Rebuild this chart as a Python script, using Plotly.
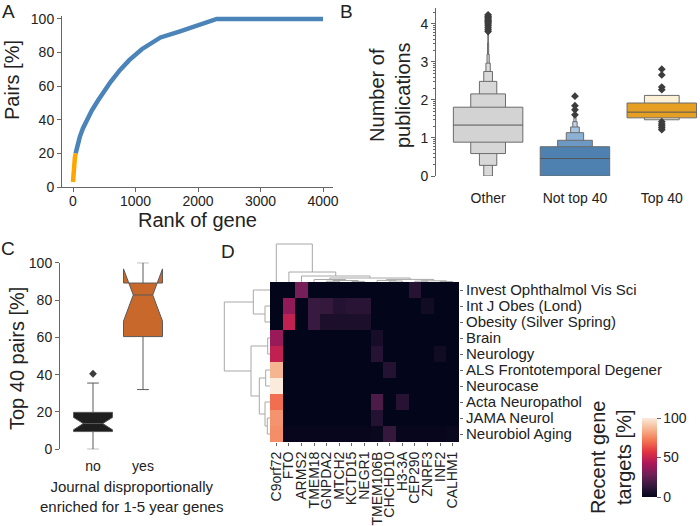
import math
import plotly.graph_objects as go

W, H = 700, 526
def px(x): return x / W
def py(y): return 1 - y / H

FONT = "Liberation Sans, Arial, sans-serif"
TXT = "#222222"
AX = "#666666"

# ---------------- Panel A data ----------------
rank_top40 = [0, 3, 10, 20, 30, 42]
pairs_top40 = [3, 6, 10.5, 14.5, 17.5, 20]
rank_rest = [42, 70, 110, 160, 220, 300, 400, 500, 600, 750, 900, 1100, 1400, 1700, 2000, 2300, 4000]
pairs_rest = [20, 25, 30, 35, 40, 45.5, 51.5, 57, 62.5, 69.5, 75.5, 82, 89, 92.5, 96.3, 100, 100]
a_xticks = [0, 1000, 2000, 3000, 4000]
a_yticks = [0, 20, 40, 60, 80, 100]

# ---------------- Panel B data (letter-value levels) ----------------
b_categories = ["Other", "Not top 40", "Top 40"]
other_lo = [0.89, 0.59, 0.28, 0.0, 0.0, 0.0, 0.0, 0.0]
other_hi = [1.81, 2.16, 2.49, 2.75, 2.97, 3.2, 3.5, 3.75]
other_med = 1.34
other_out = [3.8, 3.85, 3.9, 3.95, 4.0, 4.03, 4.07, 4.1, 4.13, 4.17, 4.2, 4.24]
other_colors = ["#d3d3d3", "#d6d6d6", "#d8d8d8", "#dadada", "#dcdcdc", "#dedede", "#e0e0e0", "#e2e2e2"]

nottop_lo = [0.0, 0.0, 0.0, 0.0, 0.0, 0.0]
nottop_hi = [0.77, 0.94, 1.14, 1.29, 1.43, 1.55]
nottop_med = 0.46
nottop_out = [1.61, 1.74, 1.85, 2.1]
nottop_colors = ["#4f81b0", "#6d98c4", "#8db1d5", "#a8c5e1", "#bfd4ea", "#d4e2f0"]

top_lo = [1.53, 1.48]
top_hi = [1.92, 2.12]
top_med = 1.68
top_out = [2.81, 2.66, 2.34, 2.27, 1.43, 1.37, 1.32, 1.27, 1.22]
top_colors = ["#e5a023", "#fcf0d6"]
b_yticks = [0, 1, 2, 3, 4]

# ---------------- Panel C data ----------------
c_categories = ["no", "yes"]
c_q1 = [9.5, 60.4]
c_median = [13.8, 82.7]
c_q3 = [19.8, 89.1]
c_lowerfence = [0, 32.0]
c_upperfence = [35.5, 100]
c_notchspan = [3.3, 14.0]
c_outliers_no = [40.5]
c_colors = ["#1e1e1e", "#c8692b"]
c_yticks = [0, 20, 40, 60, 80, 100]

# ---------------- Panel D data ----------------
genes = ["C9orf72", "FTO", "ARMS2", "TMEM18", "GNPDA2", "MTCH2", "KCTD15", "NEGR1",
         "TMEM106B", "CHCHD10", "H3-3A", "CEP290", "ZNRF3", "INF2", "CALHM1"]
journals = ["Invest Ophthalmol Vis Sci", "Int J Obes (Lond)", "Obesity (Silver Spring)", "Brain",
            "Neurology", "ALS Frontotemporal Degener", "Neurocase", "Acta Neuropathol",
            "JAMA Neurol", "Neurobiol Aging"]
targets_pct = [
    [0, 0, 30, 0, 0, 0, 0, 0, 0, 0, 0, 10, 0, 0, 0],
    [0, 36, 0, 15, 14, 9, 11, 11, 0, 0, 0, 0, 4, 0, 0],
    [0, 48, 0, 15, 7, 7, 7, 7, 0, 0, 0, 0, 0, 0, 0],
    [38, 0, 0, 0, 0, 0, 0, 0, 6, 0, 0, 0, 0, 0, 0],
    [48, 0, 0, 0, 0, 0, 0, 0, 10, 0, 0, 0, 0, 4, 0],
    [86, 0, 0, 0, 0, 0, 0, 0, 0, 9, 0, 0, 0, 0, 0],
    [100, 0, 0, 0, 0, 0, 0, 0, 0, 0, 0, 0, 0, 0, 0],
    [70, 0, 0, 0, 0, 0, 0, 0, 20, 0, 10, 0, 0, 0, 0],
    [78, 0, 0, 0, 0, 0, 0, 0, 9, 0, 0, 0, 0, 0, 0],
    [77, 1, 1, 1, 1, 1, 1, 1, 2, 14, 1, 1, 1, 1, 2],
]
cbar_ticks = [0, 50, 100]
# linkage: (child_a, child_b, height)  leaves are display-order indices
col_links = [(4, 5, 0.8), (6, 7, 0.6), (15, 16, 1.5), (3, 17, 2.5), (9, 10, 1.0),
             (8, 19, 1.6), (11, 12, 0.8), (13, 14, 0.5), (21, 22, 1.2), (20, 23, 2.6),
             (18, 24, 4.0), (2, 25, 6.0), (1, 26, 10.0), (0, 27, 38.0)]
row_links = [(1, 2, 5.0), (0, 10, 16.7), (3, 4, 2.3), (5, 6, 4.3), (8, 9, 2.7),
             (7, 14, 5.0), (13, 15, 10.7), (12, 16, 19.0), (11, 17, 45.7)]

rocket = [[0, "#03051A"], [1/7, "#35193E"], [2/7, "#701F57"], [3/7, "#AD1759"],
          [4/7, "#E13342"], [5/7, "#F37651"], [6/7, "#F6B48F"], [1, "#FAEBDD"]]

fig = go.Figure()

# ---- A ----
fig.add_trace(go.Scatter(x=rank_rest, y=pairs_rest, mode="lines",
                         line=dict(color="#4a84b8", width=4.5), xaxis="x", yaxis="y"))
fig.add_trace(go.Scatter(x=rank_top40, y=pairs_top40, mode="lines",
                         line=dict(color="#ffa500", width=4.5), xaxis="x", yaxis="y"))

# ---- B ----
b_groups = [(other_lo, other_hi, other_med, other_out, other_colors),
            (nottop_lo, nottop_hi, nottop_med, nottop_out, nottop_colors),
            (top_lo, top_hi, top_med, top_out, top_colors)]
for i, (lo, hi, med, out, cols) in enumerate(b_groups):
    n = len(lo)
    order = list(range(n))[::-1]  # outer (narrow) first, inner (wide) on top
    fig.add_trace(go.Bar(
        x=[i] * n,
        y=[hi[k] - lo[k] for k in order],
        base=[lo[k] for k in order],
        width=[0.8 * 0.5 ** k for k in order],
        marker=dict(color=[cols[k] for k in order], line=dict(color="#6b6b6b", width=1)),
        xaxis="x2", yaxis="y2"))
    fig.add_trace(go.Scatter(x=[i - 0.4, i + 0.4], y=[med, med], mode="lines",
                             line=dict(color="#555555", width=1), xaxis="x2", yaxis="y2"))
    fig.add_trace(go.Scatter(x=[i] * len(out), y=out, mode="markers",
                             marker=dict(symbol="diamond", size=6, color="#3d3d3d"),
                             xaxis="x2", yaxis="y2"))

# ---- C ----
for i in range(2):
    fig.add_trace(go.Box(x=[i], q1=[c_q1[i]], median=[c_median[i]], q3=[c_q3[i]],
                         lowerfence=[c_lowerfence[i]], upperfence=[c_upperfence[i]],
                         notchspan=[c_notchspan[i]], notched=True, notchwidth=0.25,
                         orientation="v", width=0.78, whiskerwidth=0.3, boxpoints=False,
                         fillcolor=c_colors[i], line=dict(color="#5a5a5a", width=1),
                         xaxis="x3", yaxis="y3"))
fig.add_trace(go.Scatter(x=[0] * len(c_outliers_no), y=c_outliers_no, mode="markers",
                         marker=dict(symbol="diamond", size=6, color="#3d3d3d"),
                         xaxis="x3", yaxis="y3"))

# ---- D heatmap ----
fig.add_trace(go.Heatmap(z=targets_pct, x=list(range(len(genes))), y=list(range(len(journals))),
                         colorscale=rocket, zmin=0, zmax=100, xaxis="x4", yaxis="y4",
                         colorbar=dict(x=px(642), xanchor="left", xpad=0, ypad=0,
                                       y=py(457.5), yanchor="middle", len=79, lenmode="pixels",
                                       thickness=15, outlinewidth=0, tickvals=cbar_ticks,
                                       ticks="outside", ticklen=4, tickcolor=AX,
                                       tickfont=dict(size=14, color=TXT, family=FONT))))

def dendro(links, n):
    pos = {i: float(i) for i in range(n)}
    hgt = {i: 0.0 for i in range(n)}
    P, Hh = [], []
    for k, (a, b, h) in enumerate(links):
        P += [pos[a], pos[a], pos[b], pos[b], None]
        Hh += [hgt[a], h, h, hgt[b], None]
        pos[n + k] = (pos[a] + pos[b]) / 2
        hgt[n + k] = h
    return P, Hh

cp, ch = dendro(col_links, len(genes))
fig.add_trace(go.Scatter(x=cp, y=ch, mode="lines", line=dict(color="#a8a8a8", width=1),
                         xaxis="x5", yaxis="y5"))
rp, rh = dendro(row_links, len(journals))
fig.add_trace(go.Scatter(x=rh, y=rp, mode="lines", line=dict(color="#a8a8a8", width=1),
                         xaxis="x6", yaxis="y6"))

tf = dict(size=14, color=TXT, family=FONT)
hf = dict(size=15, color=TXT, family=FONT)
base_ax = dict(showgrid=False, zeroline=False, tickfont=tf, tickcolor=AX, linecolor=AX,
               linewidth=1, automargin=False)
minor_b = [d + math.log10(k) for d in range(5) for k in range(2, 10) if d + math.log10(k) < 4.42]

fig.update_layout(
    width=W, height=H, margin=dict(l=0, r=0, t=0, b=0, autoexpand=False),
    paper_bgcolor="white", plot_bgcolor="white", showlegend=False,
    barmode="overlay", boxmode="overlay", hovermode=False,
    font=dict(family=FONT, color=TXT),
    xaxis=dict(base_ax, domain=[px(62), px(333)], range=[-176, 4160], tickvals=a_xticks,
               showline=True, ticks="outside", ticklen=4, anchor="y", ticklabelstandoff=-3),
    yaxis=dict(base_ax, domain=[py(187), py(15.6)], range=[0, 102], tickvals=a_yticks,
               showline=True, ticks="outside", ticklen=4, anchor="x"),
    xaxis2=dict(base_ax, domain=[px(436), 1], range=[-0.6, 2.44], tickvals=[0, 1, 2],
                ticktext=b_categories, showline=False, ticks="outside", ticklen=9,
                tickcolor="rgba(0,0,0,0)", anchor="y2"),
    yaxis2=dict(base_ax, domain=[py(176), py(8)], range=[0, 4.42], tickvals=b_yticks,
                showline=True, ticks="outside", ticklen=4, anchor="x2",
                minor=dict(tickvals=minor_b, ticks="outside", ticklen=2, tickcolor=AX)),
    xaxis3=dict(base_ax, domain=[px(60), px(175)], range=[-0.66, 1.64], tickvals=[0, 1],
                ticktext=c_categories, showline=False, ticks="outside", ticklen=4,
                tickcolor="rgba(0,0,0,0)", anchor="y3"),
    yaxis3=dict(base_ax, domain=[py(449.3), py(262.7)], range=[0, 100], tickvals=c_yticks,
                showline=True, ticks="outside", ticklen=4, anchor="x3"),
    xaxis4=dict(base_ax, domain=[px(270), px(459)], range=[-0.5, len(genes) - 0.5],
                tickvals=list(range(len(genes))), ticktext=genes, tickangle=-90,
                ticks="outside", ticklen=3, showline=False, anchor="y4",
                ticklabeloverflow="allow", tickfont=tf),
    yaxis4=dict(base_ax, domain=[py(442), py(282)], range=[len(journals) - 0.5, -0.5],
                side="right", tickvals=list(range(len(journals))), ticktext=journals,
                ticks="outside", ticklen=3, showline=False, anchor="x4",
                ticklabeloverflow="allow", tickfont=hf),
    xaxis5=dict(domain=[px(270), px(459)], range=[-0.5, len(genes) - 0.5], visible=False,
                anchor="y5", automargin=False),
    yaxis5=dict(domain=[py(282), py(242)], range=[0, 40], visible=False, anchor="x5",
                automargin=False),
    xaxis6=dict(domain=[px(222), px(270)], range=[48, 0], visible=False, anchor="y6",
                automargin=False),
    yaxis6=dict(domain=[py(442), py(282)], range=[len(journals) - 0.5, -0.5], visible=False,
                anchor="x6", automargin=False),
)

def ann(text, x, y, size, angle=0):
    fig.add_annotation(text=text, x=px(x), y=py(y), xref="paper", yref="paper",
                       showarrow=False, textangle=angle, xanchor="center", yanchor="middle",
                       font=dict(size=size, color=TXT, family=FONT))

ann("A", 8, 11, 19)
ann("B", 346, 11, 19)
ann("C", 8, 248, 19)
ann("D", 228, 251, 19)
ann("Pairs [%]", 12, 80, 20, -90)
ann("Rank of gene", 197, 220, 20)
ann("Number of<br>publications", 390, 95, 20, -90)
ann("Top 40 pairs [%]", 17, 359, 20, -90)
ann("Journal disproportionally<br>enriched for 1-5 year genes", 131, 496, 15)
ann("Recent gene<br>targets [%]", 611, 458, 20, -90)

fig.write_html("out.html", config={"displayModeBar": False},
               post_script="document.body.style.margin='0';document.body.style.padding='0';")
